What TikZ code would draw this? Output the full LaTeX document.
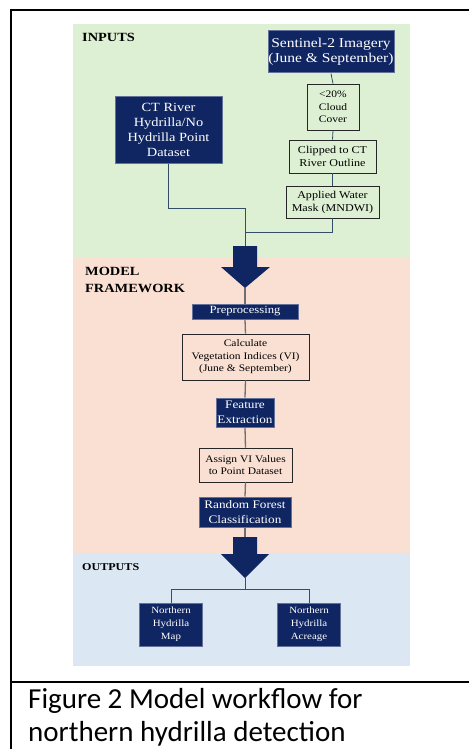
\documentclass[tikz,border=0pt]{standalone}
\usepackage{fontspec}
\setmainfont{Liberation Serif}
\newfontfamily\dfont{Liberation Serif}[FakeStretch=1.15]
\newfontfamily\capfont{Carlito}
\definecolor{navyc}{RGB}{16,38,98}
\definecolor{greenbg}{RGB}{221,240,212}
\definecolor{peachbg}{RGB}{250,224,211}
\definecolor{bluebg}{RGB}{219,231,243}
\definecolor{linec}{RGB}{52,78,104}
\definecolor{mlinec}{RGB}{110,110,115}
\tikzset{
  navybox/.style={fill=navyc, draw=navyc!65, line width=1pt, text=white, align=center, inner sep=0pt,
    font=\dfont\fontsize{12.5}{15}\selectfont},
  smallnavy/.style={navybox, font=\dfont\fontsize{9.5}{13}\selectfont},
  wbox/.style={draw=black!85, line width=0.6pt, align=center, inner sep=0pt,
    font=\dfont\fontsize{10}{12.5}\selectfont},
  inline/.style={draw=linec, line width=0.8pt},
  mline/.style={draw=mlinec, line width=1.3pt},
  bigarrow/.style={fill=navyc},
  seclabel/.style={anchor=base west, inner sep=0pt, font=\dfont\bfseries\fontsize{12.5}{15}\selectfont},
  caption/.style={anchor=base west, inner sep=0pt, font=\capfont\fontsize{29}{36}\selectfont}
}
\begin{document}
\begin{tikzpicture}[x=1pt,y=-1pt]
\useasboundingbox (0,0) rectangle (469,749);
\fill[white] (0,0) rectangle (469,749);
% panels
\fill[greenbg] (73,24) rectangle (410,258);
\fill[peachbg] (73,258) rectangle (410,553);
\fill[bluebg] (73,553) rectangle (410,666);
% frame
\draw[line width=2pt] (11,749) -- (11,10) -- (469,10);
\draw[line width=2pt] (11,682) -- (469,682);
% section labels
\node[seclabel] (lin) at (82,42) {INPUTS};
\node[seclabel, font=\dfont\bfseries\fontsize{12.5}{17}\selectfont] (lmod1) at (85,275) {MODEL};
\node[seclabel, font=\dfont\bfseries\fontsize{12.5}{17}\selectfont] (lmod2) at (85,292) {FRAMEWORK};
\node[seclabel, font=\dfont\bfseries\fontsize{10.5}{13}\selectfont] (lout) at (82,570) {OUTPUTS};
% input nodes
\node[navybox, font=\dfont\fontsize{13.5}{15.5}\selectfont, minimum width=126pt, minimum height=42pt] (sent) at (331,52) {Sentinel-2 Imagery\\(June \& September)};
\node[wbox, minimum width=52pt, minimum height=46pt] (cloud) at (333,107) {<20\%\\Cloud\\Cover};
\node[wbox, font=\dfont\fontsize{10.5}{13}\selectfont, minimum width=87pt, minimum height=33pt] (clip) at (332.5,156.5) {Clipped to CT\\River Outline};
\node[wbox, font=\dfont\fontsize{10.5}{13}\selectfont, minimum width=93pt, minimum height=32pt] (appl) at (332.5,202) {Applied Water\\Mask (MNDWI)};
\node[navybox, minimum width=107pt, minimum height=66pt] (ct) at (168.5,130) {CT River\\Hydrilla/No\\Hydrilla Point\\Dataset};
\coordinate (j1) at (245,232);
\coordinate (j2) at (245,208);
\coordinate (a1top) at (245,246);
\coordinate (a1tip) at (245,288);
% model nodes
\node[navybox, font=\dfont\fontsize{11}{13}\selectfont, minimum width=106pt, minimum height=15pt] (prep) at (245,311.5) {Preprocessing};
\node[wbox, minimum width=127pt, minimum height=46pt] (calc) at (245.5,357) {Calculate\\Vegetation Indices (VI)\\(June \& September)};
\node[navybox, font=\dfont\fontsize{11.5}{15}\selectfont, minimum width=58pt, minimum height=29pt] (feat) at (245,412.5) {Feature\\Extraction};
\node[wbox, minimum width=93pt, minimum height=34pt] (assign) at (245.5,465) {Assign VI Values\\to Point Dataset};
\node[navybox, font=\dfont\fontsize{11.5}{15}\selectfont, minimum width=92pt, minimum height=30pt] (rf) at (245,512) {Random Forest\\Classification};
\coordinate (a2top) at (245,537);
\coordinate (a2tip) at (245,578);
\coordinate (split) at (245,589);
% output nodes
\node[smallnavy, minimum width=63pt, minimum height=43pt] (map) at (171,624.5) {Northern\\Hydrilla\\Map};
\node[smallnavy, minimum width=63pt, minimum height=43pt] (acre) at (309,624.5) {Northern\\Hydrilla\\Acreage};
% input connectors
\draw[inline] (sent.south) -- (cloud.north);
\draw[inline] (cloud.south) -- (clip.north);
\draw[inline] (clip.south) -- (appl.north);
\draw[inline] (appl.south) |- (j1);
\draw[inline] (ct.south) |- (j2) -- (a1top);
% model connectors
\draw[mline] (a1tip) -- (prep.north);
\draw[mline] (prep.south) -- (calc.north);
\draw[mline] (calc.south) -- (feat.north);
\draw[mline] (feat.south) -- (assign.north);
\draw[mline] (assign.south) -- (rf.north);
\draw[mline] (rf.south) -- (a2top);
% output connectors
\draw[inline] (a2tip) -- (split);
\draw[inline] (split) -| (map.north);
\draw[inline] (split) -| (acre.north);
% big arrows
\fill[bigarrow] (233,246) -- (257,246) -- (257,267) -- (270,267) -- (a1tip) -- (221,267) -- (233,267) -- cycle;
\fill[bigarrow] (233,537) -- (257,537) -- (257,554) -- (269,554) -- (a2tip) -- (221,554) -- (233,554) -- cycle;
% caption
\node[caption] (cap1) at (28,708) {Figure 2 Model workflow for};
\node[caption] (cap2) at (28,741) {northern hydrilla detection};
\end{tikzpicture}
\end{document}
